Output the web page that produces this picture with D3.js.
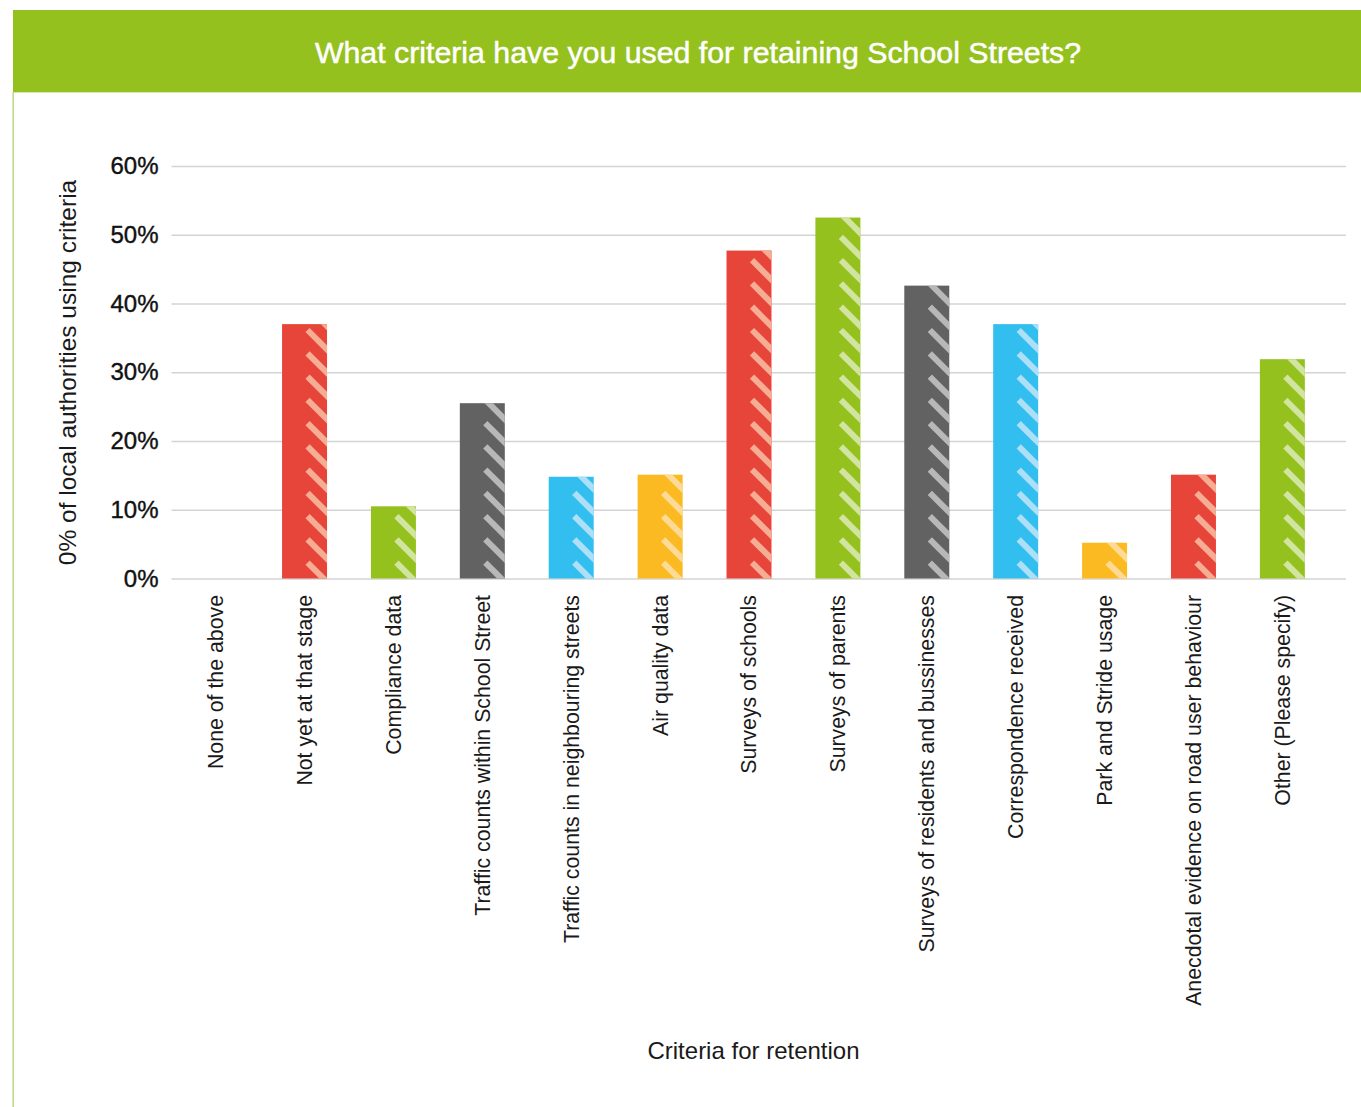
<!DOCTYPE html>
<html>
<head>
<meta charset="utf-8">
<title>School Streets retention criteria</title>
<script src="https://cdn.jsdelivr.net/npm/d3@7"></script>
<style>
  html, body { margin: 0; padding: 0; background: #ffffff; }
  svg { display: block; }
  text { font-family: "Liberation Sans", Arial, Helvetica, sans-serif; }
</style>
</head>
<body>
<div id="chart"></div>
<script>
// Chart content
const chartTitle = "What criteria have you used for retaining School Streets?";
const yAxisTitle = "0% of local authorities using criteria";
const xAxisTitle = "Criteria for retention";

const categories = [
  "None of the above",
  "Not yet at that stage",
  "Compliance data",
  "Traffic counts within School Street",
  "Traffic counts in neighbouring streets",
  "Air quality data",
  "Surveys of schools",
  "Surveys of parents",
  "Surveys of residents and bussinesses",
  "Correspondence received",
  "Park and Stride usage",
  "Anecdotal evidence on road user behaviour",
  "Other (Please specify)"
];

// Share of local authorities (%) using each criterion
const values = [0, 37.0, 10.5, 25.5, 14.8, 15.1, 47.7, 52.5, 42.6, 37.0, 5.2, 15.1, 31.9];

const yTicks = [0, 10, 20, 30, 40, 50, 60];

// Bar fill and stripe colours, cycling through the palette
const barColors    = ["#FBBA21", "#E8453A", "#95C11F", "#626262", "#33BEF0"];
const stripeColors = ["#FDDB96", "#F5AD94", "#D1E4A0", "#B8B8B8", "#ADDFF6"];

const W = 1361, H = 1107;
const svg = d3.select("#chart").append("svg")
  .attr("width", W).attr("height", H)
  .attr("viewBox", `0 0 ${W} ${H}`);

// Header band and left frame line
svg.append("rect")
  .attr("x", 13).attr("y", 10).attr("width", W - 13).attr("height", 82)
  .attr("fill", "#95C11F");
svg.append("line")
  .attr("x1", 13).attr("x2", W).attr("y1", 92.5).attr("y2", 92.5)
  .attr("stroke", "#d6e7a8").attr("stroke-width", 1);
svg.append("line")
  .attr("x1", 13.2).attr("x2", 13.2).attr("y1", 92).attr("y2", H)
  .attr("stroke", "#c4da88").attr("stroke-width", 1.6);

svg.append("text")
  .attr("x", 698).attr("y", 52)
  .attr("text-anchor", "middle").attr("dominant-baseline", "central")
  .attr("fill", "#ffffff").attr("font-size", 30.3)
  .attr("stroke", "#ffffff").attr("stroke-width", 0.5)
  .text(chartTitle);

// Scales
const x = d3.scaleBand()
  .domain(categories)
  .range([171.2, 1326.8])
  .paddingInner(0.494)
  .paddingOuter(0.247);

const y = d3.scaleLinear().domain([0, 60]).range([578.5, 166]);

const gridRight = 1346;
const plotLeft = 171.5;

// Gridlines and y tick labels
const yAxis = d3.axisLeft(y)
  .tickValues(yTicks)
  .tickSize(-(gridRight - plotLeft))
  .tickPadding(13)
  .tickFormat(d => d + "%");

const gy = svg.append("g")
  .attr("transform", `translate(${plotLeft},0)`)
  .call(yAxis);
gy.select(".domain").remove();
gy.selectAll(".tick line")
  .attr("stroke", "#d4d4d4").attr("stroke-width", 1.6);
gy.selectAll(".tick text")
  .attr("fill", "#111111")
  .attr("stroke", "#111111").attr("stroke-width", 0.4)
  .attr("font-size", 24)
  .attr("font-family", "'Liberation Sans', Arial, sans-serif");

// Bars
const baseY = y(0);
const bars = svg.append("g").attr("class", "bars");
const defs = svg.append("defs");

const stripePeriod = 23.26;
const stripeOffset = 15.9;

categories.forEach((c, i) => {
  const v = values[i];
  if (v <= 0) return;
  const x0 = x(c), bw = x.bandwidth();
  const top = y(v);
  const col = barColors[i % barColors.length];
  const scol = stripeColors[i % stripeColors.length];

  const clipId = "clip-bar-" + i;
  defs.append("clipPath").attr("id", clipId)
    .append("rect")
    .attr("x", x0).attr("y", top)
    .attr("width", bw).attr("height", baseY - top);

  const g = bars.append("g");
  g.append("rect")
    .attr("x", x0).attr("y", top)
    .attr("width", bw).attr("height", baseY - top)
    .attr("fill", col);

  // Diagonal stripes on the right half of the bar
  const sg = g.append("g").attr("clip-path", `url(#${clipId})`);
  const startX = x0 + bw * 0.567;
  const run = bw + 12 - bw * 0.567;
  const stripeYs = [];
  for (let yk = baseY - stripeOffset; yk > top - run - 4; yk -= stripePeriod) {
    stripeYs.push(yk);
  }
  sg.selectAll("line").data(stripeYs).join("line")
    .attr("x1", startX).attr("y1", d => d)
    .attr("x2", startX + run).attr("y2", d => d + run)
    .attr("stroke", scol)
    .attr("stroke-width", 6)
    .attr("stroke-linecap", "butt");
});

// Category labels, rotated
svg.append("g").selectAll("text")
  .data(categories).join("text")
  .attr("transform", d => `translate(${x(d) + x.bandwidth() / 2},595) rotate(-90)`)
  .attr("text-anchor", "end")
  .attr("dy", "0.35em")
  .attr("fill", "#1a1a1a")
  .attr("font-size", 21.3)
  .text(d => d);

// Axis titles
svg.append("text")
  .attr("transform", "translate(76,372.5) rotate(-90)")
  .attr("text-anchor", "middle")
  .attr("fill", "#1a1a1a")
  .attr("font-size", 24.5)
  .text(yAxisTitle);

svg.append("text")
  .attr("x", 753.5).attr("y", 1059)
  .attr("text-anchor", "middle")
  .attr("fill", "#1a1a1a")
  .attr("font-size", 24)
  .text(xAxisTitle);
</script>
</body>
</html>
